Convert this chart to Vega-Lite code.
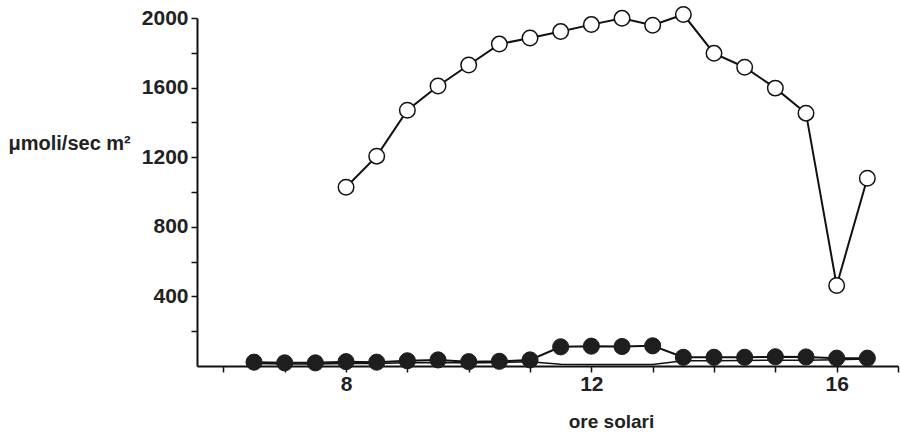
{
  "$schema": "https://vega.github.io/schema/vega-lite/v6.json",
  "autosize": "none",
  "width": 701,
  "height": 348,
  "padding": {"left": 197, "top": 18, "right": 2, "bottom": 67},
  "background": "white",
  "config": {"view": {"stroke": null}},
  "datasets": {
    "pts": [
      {"hour": 8, "value": 1027, "series": "A"},
      {"hour": 8.5, "value": 1206, "series": "A"},
      {"hour": 9, "value": 1470, "series": "A"},
      {"hour": 9.5, "value": 1609, "series": "A"},
      {"hour": 10, "value": 1730, "series": "A"},
      {"hour": 10.5, "value": 1850, "series": "A"},
      {"hour": 11, "value": 1885, "series": "A"},
      {"hour": 11.5, "value": 1922, "series": "A"},
      {"hour": 12, "value": 1962, "series": "A"},
      {"hour": 12.5, "value": 1998, "series": "A"},
      {"hour": 13, "value": 1958, "series": "A"},
      {"hour": 13.5, "value": 2020, "series": "A"},
      {"hour": 14, "value": 1797, "series": "A"},
      {"hour": 14.5, "value": 1717, "series": "A"},
      {"hour": 15, "value": 1597, "series": "A"},
      {"hour": 15.5, "value": 1453, "series": "A"},
      {"hour": 16, "value": 463, "series": "A"},
      {"hour": 16.5, "value": 1079, "series": "A"},
      {"hour": 6.5, "value": 22, "series": "B"},
      {"hour": 7, "value": 18, "series": "B"},
      {"hour": 7.5, "value": 18, "series": "B"},
      {"hour": 8, "value": 25, "series": "B"},
      {"hour": 8.5, "value": 22, "series": "B"},
      {"hour": 9, "value": 30, "series": "B"},
      {"hour": 9.5, "value": 35, "series": "B"},
      {"hour": 10, "value": 25, "series": "B"},
      {"hour": 10.5, "value": 27, "series": "B"},
      {"hour": 11, "value": 35, "series": "B"},
      {"hour": 11.5, "value": 110, "series": "B"},
      {"hour": 12, "value": 114, "series": "B"},
      {"hour": 12.5, "value": 112, "series": "B"},
      {"hour": 13, "value": 116, "series": "B"},
      {"hour": 13.5, "value": 50, "series": "B"},
      {"hour": 14, "value": 50, "series": "B"},
      {"hour": 14.5, "value": 50, "series": "B"},
      {"hour": 15, "value": 53, "series": "B"},
      {"hour": 15.5, "value": 52, "series": "B"},
      {"hour": 16, "value": 45, "series": "B"},
      {"hour": 16.5, "value": 45, "series": "B"},
      {"hour": 6.5, "value": 14, "series": "C"},
      {"hour": 7, "value": 11, "series": "C"},
      {"hour": 7.5, "value": 11, "series": "C"},
      {"hour": 8, "value": 15, "series": "C"},
      {"hour": 8.5, "value": 14, "series": "C"},
      {"hour": 9, "value": 18, "series": "C"},
      {"hour": 9.5, "value": 20, "series": "C"},
      {"hour": 10, "value": 17, "series": "C"},
      {"hour": 10.5, "value": 20, "series": "C"},
      {"hour": 11, "value": 24, "series": "C"},
      {"hour": 11.5, "value": 10, "series": "C"},
      {"hour": 12, "value": 8, "series": "C"},
      {"hour": 12.5, "value": 8, "series": "C"},
      {"hour": 13, "value": 8, "series": "C"},
      {"hour": 13.5, "value": 30, "series": "C"},
      {"hour": 14, "value": 30, "series": "C"},
      {"hour": 14.5, "value": 32, "series": "C"},
      {"hour": 15, "value": 33, "series": "C"},
      {"hour": 15.5, "value": 33, "series": "C"},
      {"hour": 16, "value": 36, "series": "C"},
      {"hour": 16.5, "value": 40, "series": "C"}
    ]
  },
  "data": {"name": "pts"},
  "encoding": {
    "x": {
      "field": "hour", "type": "quantitative",
      "scale": {"domain": [5.57, 17], "nice": false, "zero": false},
      "axis": {
        "values": [6, 7, 8, 9, 10, 11, 12, 13, 14, 15, 16, 17],
        "labelExpr": "(datum.value == 8 || datum.value == 12 || datum.value == 16) ? datum.label : ''",
        "grid": false,
        "domainColor": "#111", "domainWidth": 2,
        "tickColor": "#111", "tickWidth": 1.5, "tickSize": 6,
        "labelFont": "Liberation Sans", "labelFontWeight": "bold", "labelFontSize": 21,
        "labelColor": "#222", "labelPadding": 1, "labelFlush": false,
        "title": "ore  solari",
        "titleFont": "Liberation Sans", "titleFontWeight": "bold", "titleFontSize": 19,
        "titleColor": "#222", "titleX": 414, "titleY": 61, "titleBaseline": "alphabetic"
      }
    },
    "y": {
      "field": "value", "type": "quantitative",
      "scale": {"domain": [0, 2000], "nice": false},
      "axis": {
        "values": [200, 400, 600, 800, 1000, 1200, 1400, 1600, 1800, 2000],
        "labelExpr": "datum.value % 400 == 0 ? datum.label : ''",
        "format": "d",
        "grid": false,
        "domainColor": "#111", "domainWidth": 2,
        "tickColor": "#111", "tickWidth": 1.5, "tickSize": 6,
        "labelFont": "Liberation Sans", "labelFontWeight": "bold", "labelFontSize": 21,
        "labelColor": "#222", "labelPadding": 3, "labelFlush": false,
        "title": "μmoli/sec  m²",
        "titleFont": "Liberation Sans", "titleFontWeight": "bold", "titleFontSize": 20,
        "titleColor": "#222", "titleAngle": 0, "titleAlign": "left",
        "titleBaseline": "alphabetic", "titleX": -189, "titleY": 131
      }
    }
  },
  "layer": [
    {
      "transform": [{"filter": "datum.series == 'C'"}],
      "mark": {"type": "line", "color": "#111", "strokeWidth": 1.5}
    },
    {
      "transform": [{"filter": "datum.series == 'B'"}],
      "mark": {"type": "line", "color": "#111", "strokeWidth": 2}
    },
    {
      "transform": [{"filter": "datum.series == 'B'"}],
      "mark": {"type": "point", "shape": "circle", "filled": true, "fill": "#1e1e1e", "stroke": "#1e1e1e", "strokeWidth": 1, "size": 260, "opacity": 1}
    },
    {
      "transform": [{"filter": "datum.series == 'A'"}],
      "mark": {"type": "line", "color": "#111", "strokeWidth": 2}
    },
    {
      "transform": [{"filter": "datum.series == 'A'"}],
      "mark": {"type": "point", "shape": "circle", "filled": true, "fill": "white", "stroke": "#111", "strokeWidth": 1.5, "size": 240, "opacity": 1}
    }
  ]
}
